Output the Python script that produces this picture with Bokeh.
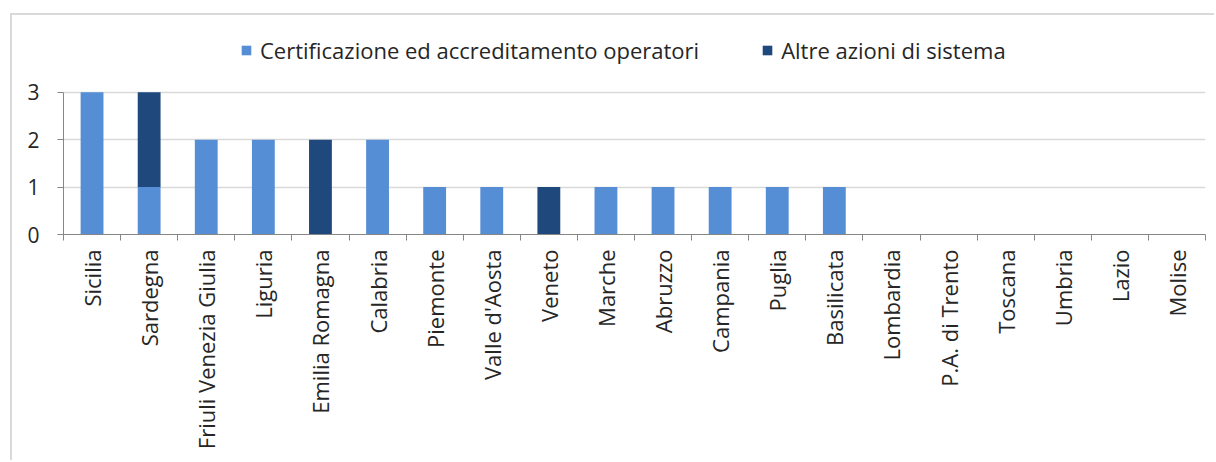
import math
from bokeh.plotting import figure
from bokeh.models import Range1d, FixedTicker, Legend, LegendItem, ColumnDataSource
from bokeh.embed import file_html
from bokeh.resources import INLINE

categories = ["Sicilia", "Sardegna", "Friuli Venezia Giulia", "Liguria", "Emilia Romagna",
              "Calabria", "Piemonte", "Valle d'Aosta", "Veneto", "Marche", "Abruzzo",
              "Campania", "Puglia", "Basilicata", "Lombardia", "P.A. di Trento", "Toscana",
              "Umbria", "Lazio", "Molise"]
certificazione = [3, 1, 2, 2, 0, 2, 1, 1, 0, 1, 1, 1, 1, 1, 0, 0, 0, 0, 0, 0]
altre = [0, 2, 0, 0, 2, 0, 0, 0, 1, 0, 0, 0, 0, 0, 0, 0, 0, 0, 0, 0]
series_names = ["Certificazione ed accreditamento operatori", "Altre azioni di sistema"]
colors = ["#558ED5", "#1F497D"]
y_ticks = [0, 1, 2, 3]

FONT = "Open Sans"
TXT = "#262626"

xs = [i + 0.5 for i in range(len(categories))]
src = ColumnDataSource(dict(x=xs, cert=certificazione, altre=altre))

p = figure(width=1204, height=447, output_backend="svg", toolbar_location=None,
           x_range=Range1d(0, len(categories)), y_range=Range1d(0, 4.2),
           min_border_left=51, min_border_right=11, min_border_top=20, min_border_bottom=228)
p.outline_line_color = None
p.styles = {"margin-left": "10px", "margin-top": "13px",
            "border-left": "2px solid #d9d9d9", "border-top": "2px solid #d9d9d9"}

r = p.vbar_stack(["cert", "altre"], x="x", width=0.4, source=src, color=colors, line_color=None)

# x axis
p.xaxis.ticker = FixedTicker(ticks=xs, minor_ticks=list(range(len(categories) + 1)))
p.xaxis.major_label_overrides = {x: c for x, c in zip(xs, categories)}
p.xaxis.major_label_orientation = math.pi / 2
p.xaxis.major_tick_out = 0
p.xaxis.major_tick_in = 0
p.xaxis.minor_tick_out = 6
p.xaxis.minor_tick_in = 0
p.xaxis.minor_tick_line_color = "#868686"
p.xaxis.axis_line_color = "#868686"
p.xaxis.major_label_text_font = FONT
p.xaxis.major_label_text_font_size = "22px"
p.xaxis.major_label_text_color = TXT
p.xaxis.major_label_standoff = 9

# y axis
p.yaxis.ticker = FixedTicker(ticks=y_ticks)
p.yaxis.bounds = (0, 3)
p.yaxis.minor_tick_line_color = None
p.yaxis.major_tick_out = 6
p.yaxis.major_tick_in = 0
p.yaxis.major_tick_line_color = "#868686"
p.yaxis.axis_line_color = "#868686"
p.yaxis.major_label_text_font = FONT
p.yaxis.major_label_text_font_size = "21px"
p.yaxis.major_label_text_color = TXT
p.yaxis.major_label_standoff = 18

p.xgrid.grid_line_color = None
p.ygrid.ticker = FixedTicker(ticks=[1, 2, 3])
p.ygrid.grid_line_color = "#d9d9d9"
p.ygrid.grid_line_width = 1.5

legend = Legend(items=[LegendItem(label=series_names[0], renderers=[r[0]]),
                       LegendItem(label=series_names[1], renderers=[r[1]])],
                orientation="horizontal", location=(177, 169))
legend.label_text_font = FONT
legend.label_text_font_size = "22px"
legend.label_text_color = TXT
legend.glyph_width = 12
legend.glyph_height = 12
legend.label_standoff = 8
legend.spacing = 62
legend.border_line_color = None
legend.background_fill_alpha = 0
legend.margin = 0
legend.padding = 0
p.add_layout(legend)

open("out.html", "w").write(file_html(p, INLINE))
